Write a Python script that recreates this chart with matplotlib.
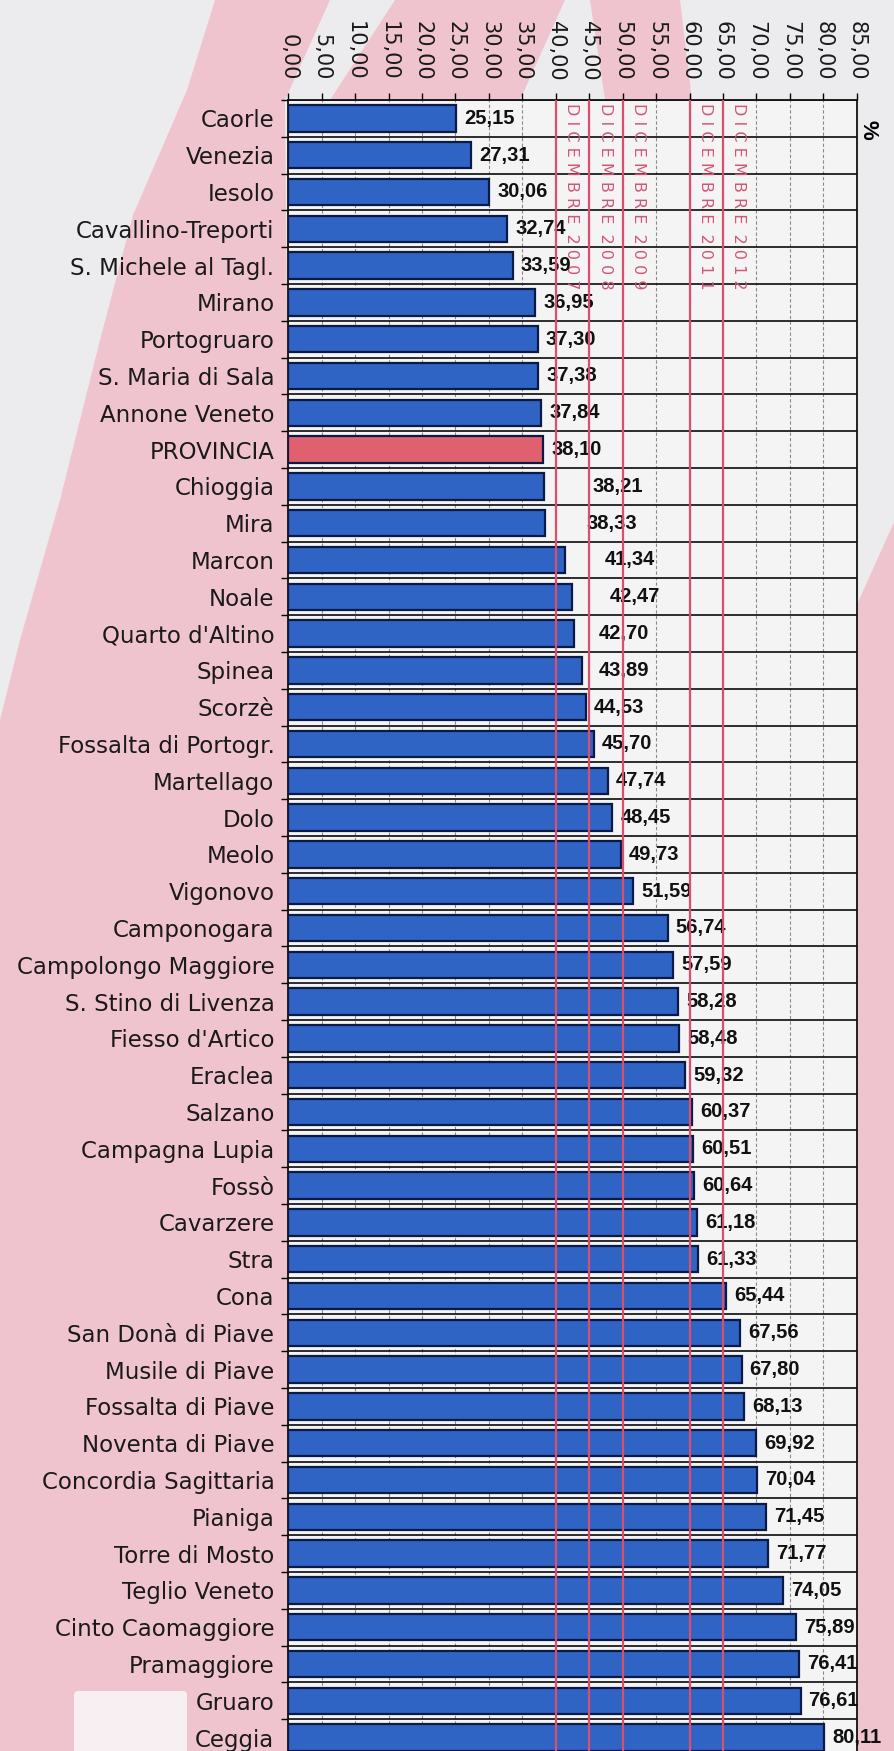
import matplotlib
matplotlib.use('Agg')
import matplotlib.pyplot as plt
import numpy as np
from matplotlib.patches import Polygon, Rectangle, FancyBboxPatch

# ---------------- data ----------------
comuni = [
    "Caorle", "Venezia", "Iesolo", "Cavallino-Treporti", "S. Michele al Tagl.",
    "Mirano", "Portogruaro", "S. Maria di Sala", "Annone Veneto", "PROVINCIA",
    "Chioggia", "Mira", "Marcon", "Noale", "Quarto d'Altino", "Spinea", "Scorzè",
    "Fossalta di Portogr.", "Martellago", "Dolo", "Meolo", "Vigonovo",
    "Camponogara", "Campolongo Maggiore", "S. Stino di Livenza", "Fiesso d'Artico",
    "Eraclea", "Salzano", "Campagna Lupia", "Fossò", "Cavarzere", "Stra", "Cona",
    "San Donà di Piave", "Musile di Piave", "Fossalta di Piave", "Noventa di Piave",
    "Concordia Sagittaria", "Pianiga", "Torre di Mosto", "Teglio Veneto",
    "Cinto Caomaggiore", "Pramaggiore", "Gruaro", "Ceggia",
]
valori = [
    25.15, 27.31, 30.06, 32.74, 33.59, 36.95, 37.30, 37.38, 37.84, 38.10,
    38.21, 38.33, 41.34, 42.47, 42.70, 43.89, 44.53, 45.70, 47.74, 48.45,
    49.73, 51.59, 56.74, 57.59, 58.28, 58.48, 59.32, 60.37, 60.51, 60.64,
    61.18, 61.33, 65.44, 67.56, 67.80, 68.13, 69.92, 70.04, 71.45, 71.77,
    74.05, 75.89, 76.41, 76.61, 80.11,
]
target_anni = ["2007", "2008", "2009", "2011", "2012"]
target_valori = [40, 45, 50, 60, 65]
x_ticks = list(range(0, 90, 5))
evidenziato = "PROVINCIA"

# ---------------- layout / style ----------------
W, H = 895, 1751
label_shift_px = {"Chioggia": 41, "Mira": 34, "Marcon": 32, "Noale": 29,
                  "Quarto d'Altino": 17, "Spinea": 9}
PINK = "#f0c4cf"
GRAY = "#ececee"

fig = plt.figure(figsize=(W / 100, H / 100), dpi=100)
fig.patch.set_facecolor(GRAY)

# background decoration (figure pixel coordinates)
bg = fig.add_axes([0, 0, 1, 1], zorder=-10)
bg.set_xlim(0, W)
bg.set_ylim(H, 0)
bg.axis("off")
bg.add_patch(Rectangle((0, 0), W, H, color=GRAY, lw=0))
bg.add_patch(Polygon([(215, 0), (330, 0), (285, 100), (300, H), (0, H), (0, 720),
                      (20, 640), (60, 500), (100, 340), (133, 215), (187, 90)],
                     closed=True, color=PINK, lw=0))
bg.add_patch(Polygon([(395, 0), (565, 0), (520, 100), (330, 100)],
                     closed=True, color=PINK, lw=0))
bg.add_patch(Polygon([(590, 0), (680, 0), (692, 100), (605, 100)],
                     closed=True, color=PINK, lw=0))
bg.add_patch(Polygon([(850, 620), (W, 520), (W, H), (850, H)],
                     closed=True, color=PINK, lw=0))
bg.add_patch(FancyBboxPatch((78, 1695), 105, 80, boxstyle="round,pad=4",
                            color="#f8eff2", lw=0))

# main axes
x0, x1 = 288.3, 856.7
top, bottom = 100, 1756
ax = fig.add_axes([x0 / W, (H - bottom) / H, (x1 - x0) / W, (bottom - top) / H])
ax.set_facecolor("#f4f4f4")

y = np.arange(len(comuni))
colori = ["#e0606f" if c == evidenziato else "#3064c4" for c in comuni]
ax.barh(y, valori, height=0.72, color=colori, edgecolor="#0b1a45",
        linewidth=1.6, zorder=3)

ax.set_xlim(0, 85)
ax.set_ylim(len(comuni) - 0.5, -0.5)

# x axis on top with rotated labels
ax.xaxis.tick_top()
ax.set_xticks(x_ticks)
ax.set_xticklabels([f"{t:.2f}".replace(".", ",") for t in x_ticks],
                   rotation=-90, fontsize=15, family="DejaVu Sans", color="#1a1a1a")
ax.tick_params(axis="x", which="major", direction="out", length=5, width=1,
               pad=9, top=True, bottom=False)

# y axis
ax.set_yticks(y)
ax.set_yticklabels(comuni, fontsize=16.5, family="DejaVu Sans", color="#1a1a1a")
ax.tick_params(axis="y", which="major", length=0, pad=10)
ax.set_yticks(np.arange(-0.5, len(comuni), 1), minor=True)
ax.tick_params(axis="y", which="minor", direction="out", length=5, width=1)

ax.set_axisbelow(True)
ax.grid(axis="x", which="major", color="#8a8a8a", lw=0.8, ls=(0, (3, 2)))
ax.grid(axis="y", which="minor", color="#1c1c1c", lw=1.3)

for s in ["top", "left", "right"]:
    ax.spines[s].set_color("#111111")
    ax.spines[s].set_linewidth(1.3)
ax.spines["bottom"].set_visible(False)

# target lines
for v, anno in zip(target_valori, target_anni):
    ax.axvline(v, color="#d8506c", lw=1.6, zorder=6)
    testo = " ".join("DICEMBRE") + "  " + " ".join(anno)
    ax.annotate(testo, xy=(v, 1), xycoords=("data", "axes fraction"),
                xytext=(6, -2), textcoords="offset points", rotation=-90,
                ha="left", va="top", color="#d25676", fontsize=11.5,
                family="DejaVu Sans", zorder=4)

# value labels
for i, (c, v) in enumerate(zip(comuni, valori)):
    dx = (8 + label_shift_px.get(c, 0)) * 0.72
    ax.annotate(f"{v:.2f}".replace(".", ","), xy=(v, i), xytext=(dx, 0),
                textcoords="offset points", ha="left", va="center",
                fontsize=14.5, fontweight="bold", family="Liberation Sans",
                color="#111111", zorder=5)

fig.text(868 / W, 1 - 130 / H, "%", rotation=-90, fontsize=16,
         fontweight="bold", family="Liberation Sans", ha="center", va="center")

fig.savefig("out.png", dpi=100, facecolor=fig.get_facecolor())
